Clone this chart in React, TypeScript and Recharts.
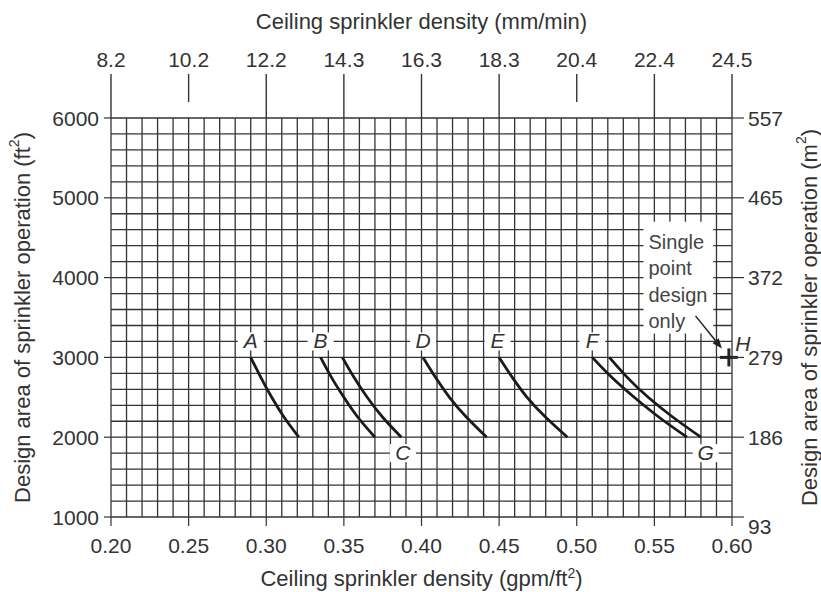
import React from 'react';
import {
  LineChart, Line, XAxis, YAxis, CartesianGrid, Scatter,
  ReferenceArea, ReferenceLine,
} from 'recharts';

// bottom axis, gpm/ft2
const densityTicks = [0.2, 0.25, 0.3, 0.35, 0.4, 0.45, 0.5, 0.55, 0.6];
// top axis, mm/min (same positions as densityTicks)
const mmLabels = ['8.2', '10.2', '12.2', '14.3', '16.3', '18.3', '20.4', '22.4', '24.5'];
const shortTopTicks = ['10.2', '20.4'];
// left axis, ft2
const areaTicks = [1000, 2000, 3000, 4000, 5000, 6000];
// right axis, m2
const m2Labels = ['93', '186', '279', '372', '465', '557'];

// fine grid: every 0.01 gpm/ft2 and every 200 ft2
const gridX: number[] = [];
for (let i = 20; i <= 60; i++) gridX.push(i / 100);
const gridY: number[] = [];
for (let v = 1000; v <= 6000; v += 200) gridY.push(v);

const curveA = [
  { x: 0.290, y: 3000 }, { x: 0.2965, y: 2750 }, { x: 0.3035, y: 2500 }, { x: 0.3115, y: 2250 }, { x: 0.321, y: 2000 },
];
const curveB1 = [
  { x: 0.335, y: 3000 }, { x: 0.342, y: 2750 }, { x: 0.350, y: 2500 }, { x: 0.359, y: 2250 }, { x: 0.370, y: 2000 },
];
const curveB2 = [
  { x: 0.349, y: 3000 }, { x: 0.3565, y: 2750 }, { x: 0.365, y: 2500 }, { x: 0.375, y: 2250 }, { x: 0.387, y: 2000 },
];
const curveD = [
  { x: 0.401, y: 3000 }, { x: 0.409, y: 2750 }, { x: 0.418, y: 2500 }, { x: 0.429, y: 2250 }, { x: 0.442, y: 2000 },
];
const curveE = [
  { x: 0.450, y: 3000 }, { x: 0.4585, y: 2750 }, { x: 0.468, y: 2500 }, { x: 0.480, y: 2250 }, { x: 0.494, y: 2000 },
];
const curveF1 = [
  { x: 0.510, y: 3000 }, { x: 0.5225, y: 2750 }, { x: 0.537, y: 2500 }, { x: 0.553, y: 2250 }, { x: 0.571, y: 2000 },
];
const curveF2 = [
  { x: 0.521, y: 3000 }, { x: 0.5325, y: 2750 }, { x: 0.546, y: 2500 }, { x: 0.562, y: 2250 }, { x: 0.580, y: 2000 },
];
const curves = [curveA, curveB1, curveB2, curveD, curveE, curveF1, curveF2];

const curveLabels = [
  { x: 0.290, y: 3200, name: 'A' },
  { x: 0.335, y: 3200, name: 'B' },
  { x: 0.401, y: 3200, name: 'D' },
  { x: 0.449, y: 3200, name: 'E' },
  { x: 0.510, y: 3200, name: 'F' },
  { x: 0.388, y: 1800, name: 'C' },
  { x: 0.583, y: 1800, name: 'G' },
];
const pointH = [{ x: 0.598, y: 3000, name: 'H' }];
const noteLines = ['Single', 'point', 'design', 'only'];

const FONT = '"Liberation Sans", Arial, Helvetica, sans-serif';
const INK = '#333';
const FS = 21;
const TITLE_FS = 22;

const isMajorX = (v: number) => Math.abs(v * 20 - Math.round(v * 20)) < 1e-6;
const nearestIndex = (arr: number[], v: number) => {
  let best = 0;
  arr.forEach((a, i) => { if (Math.abs(a - v) < Math.abs(arr[best] - v)) best = i; });
  return best;
};

const BottomTick = (props: any) => {
  const { x, y, payload } = props;
  const v = payload.value as number;
  if (!isMajorX(v)) return <g />;
  return (
    <g>
      <line x1={x} y1={y} x2={x} y2={y + 9} stroke={INK} strokeWidth={1.2} />
      <text x={x} y={y + 36} textAnchor="middle" fontSize={FS} fontFamily={FONT} fill={INK}>
        {v.toFixed(2)}
      </text>
    </g>
  );
};

const TopTick = (props: any) => {
  const { x, y, payload } = props;
  const label = mmLabels[nearestIndex(densityTicks, payload.value)];
  const short = shortTopTicks.includes(label);
  return (
    <g>
      <line x1={x} y1={y - 44} x2={x} y2={short ? y - 16 : y} stroke={INK} strokeWidth={1.4} />
      <text x={x} y={y - 51} textAnchor="middle" fontSize={FS} fontFamily={FONT} fill={INK}>
        {label}
      </text>
    </g>
  );
};

const LeftTick = (props: any) => {
  const { x, y, payload } = props;
  const v = payload.value as number;
  if (v % 1000 !== 0) return <g />;
  return (
    <g>
      <line x1={x - 7} y1={y} x2={x} y2={y} stroke={INK} strokeWidth={1.2} />
      <text x={x - 12} y={y + 7.5} textAnchor="end" fontSize={FS} fontFamily={FONT} fill={INK}>
        {v}
      </text>
    </g>
  );
};

const RightTick = (props: any) => {
  const { x, y, payload } = props;
  const i = nearestIndex(areaTicks, payload.value);
  return (
    <g>
      <line x1={x} y1={y} x2={x + 12} y2={y} stroke={INK} strokeWidth={1.2} />
      <text x={x + 16} y={y + (i === 0 ? 17 : 7.5)} textAnchor="start" fontSize={FS} fontFamily={FONT} fill={INK}>
        {m2Labels[i]}
      </text>
    </g>
  );
};

const LabelBox = (props: any) => {
  const { cx, cy, payload } = props;
  return (
    <g>
      <rect x={cx - 13} y={cy - 9} width={26} height={18} fill="#fff" />
      <text x={cx} y={cy + 7} textAnchor="middle" fontSize={21} fontStyle="italic" fontFamily={FONT} fill={INK}>
        {payload.name}
      </text>
    </g>
  );
};

const PlusMark = (props: any) => {
  const { cx, cy, payload } = props;
  return (
    <g>
      <line x1={cx - 9} y1={cy} x2={cx + 9} y2={cy} stroke="#222" strokeWidth={3} />
      <line x1={cx} y1={cy - 9} x2={cx} y2={cy + 9} stroke="#222" strokeWidth={3} />
      <text x={cx + 14} y={cy - 6} textAnchor="middle" fontSize={21} fontStyle="italic" fontFamily={FONT} fill={INK}>
        {payload.name}
      </text>
    </g>
  );
};

const Arrow = (props: any) => {
  const { x1, y1, x2, y2 } = props;
  const ang = Math.atan2(y2 - y1, x2 - x1);
  const L = 10;
  const W = 4;
  const bx = x2 - L * Math.cos(ang);
  const by = y2 - L * Math.sin(ang);
  const px = -Math.sin(ang) * W;
  const py = Math.cos(ang) * W;
  return (
    <g>
      <line x1={x1} y1={y1} x2={bx} y2={by} stroke="#222" strokeWidth={1.5} />
      <polygon points={`${x2},${y2} ${bx + px},${by + py} ${bx - px},${by - py}`} fill="#222" />
    </g>
  );
};

const NoteText = (props: any) => {
  const { viewBox } = props;
  const x0 = viewBox.x + 5;
  const y0 = viewBox.y;
  return (
    <g>
      {noteLines.map((t, i) => (
        <text key={t} x={x0} y={y0 + 27 + i * 26.5} fontSize={20} fontFamily={FONT} fill="#444">
          {t}
        </text>
      ))}
    </g>
  );
};

const TitleTop = (props: any) => {
  const { viewBox } = props;
  return (
    <text x={viewBox.x + viewBox.width / 2} y={29} textAnchor="middle" fontSize={TITLE_FS} fontFamily={FONT} fill={INK}>
      Ceiling sprinkler density (mm/min)
    </text>
  );
};

const TitleBottom = (props: any) => {
  const { viewBox } = props;
  return (
    <text x={viewBox.x + viewBox.width / 2} y={viewBox.y + 69} textAnchor="middle" fontSize={TITLE_FS} fontFamily={FONT} fill={INK}>
      Ceiling sprinkler density (gpm/ft<tspan dy={-8} fontSize={14}>2</tspan><tspan dy={8}>)</tspan>
    </text>
  );
};

const makeSideTitle = (unit: string, cxOffset: number) => (props: any) => {
  const { viewBox } = props;
  const cx = viewBox.x + cxOffset;
  const cy = viewBox.y + viewBox.height / 2;
  return (
    <text
      x={cx}
      y={cy}
      transform={`rotate(-90 ${cx} ${cy})`}
      textAnchor="middle"
      dominantBaseline="central"
      fontSize={TITLE_FS}
      fontFamily={FONT}
      fill={INK}
    >
      Design area of sprinkler operation ({unit}<tspan dy={-8} fontSize={14}>2</tspan><tspan dy={8}>)</tspan>
    </text>
  );
};
const TitleLeft = makeSideTitle('ft', 22);
const TitleRight = makeSideTitle('m', 77);

export default function App() {
  return (
    <div style={{ position: 'absolute', left: 0, top: 0, background: '#fff', fontFamily: FONT }}>
      <LineChart width={821} height={592} margin={{ top: 0, right: 0, bottom: 0, left: 0 }}>
        <CartesianGrid xAxisId="bottom" yAxisId="left" stroke="#333" strokeWidth={1.3} />
        <XAxis
          xAxisId="bottom"
          type="number"
          dataKey="x"
          domain={[0.2, 0.6]}
          ticks={gridX}
          interval={0}
          height={75}
          tickSize={0}
          tickMargin={0}
          axisLine={false}
          tickLine={false}
          tick={<BottomTick />}
          label={{ content: <TitleBottom /> }}
        />
        <XAxis
          xAxisId="top"
          orientation="top"
          type="number"
          dataKey="x"
          domain={[0.2, 0.6]}
          ticks={densityTicks}
          interval={0}
          height={118}
          tickSize={0}
          tickMargin={0}
          axisLine={false}
          tickLine={false}
          tick={<TopTick />}
          label={{ content: <TitleTop /> }}
        />
        <YAxis
          yAxisId="left"
          type="number"
          domain={[1000, 6000]}
          ticks={gridY}
          interval={0}
          width={111}
          tickSize={0}
          tickMargin={0}
          axisLine={false}
          tickLine={false}
          tick={<LeftTick />}
          label={{ content: <TitleLeft /> }}
        />
        <YAxis
          yAxisId="right"
          orientation="right"
          type="number"
          domain={[1000, 6000]}
          ticks={areaTicks}
          interval={0}
          width={89}
          tickSize={0}
          tickMargin={0}
          axisLine={false}
          tickLine={false}
          tick={<RightTick />}
          label={{ content: <TitleRight /> }}
        />
        <ReferenceArea
          xAxisId="bottom"
          yAxisId="left"
          x1={0.543}
          x2={0.588}
          y1={3300}
          y2={4700}
          fill="#fff"
          fillOpacity={1}
          stroke="none"
          label={{ content: <NoteText /> }}
        />
        <ReferenceLine
          xAxisId="bottom"
          yAxisId="left"
          segment={[{ x: 0.5765, y: 3520 }, { x: 0.5935, y: 3110 }]}
          shape={<Arrow />}
        />
        {curves.map((c, i) => (
          <Line
            key={i}
            xAxisId="bottom"
            yAxisId="left"
            data={c}
            dataKey="y"
            type="natural"
            stroke="#1a1a1a"
            strokeWidth={2.8}
            dot={false}
            activeDot={false}
            isAnimationActive={false}
          />
        ))}
        <Scatter
          xAxisId="top"
          yAxisId="right"
          data={curveLabels}
          dataKey="y"
          shape={<LabelBox />}
          isAnimationActive={false}
        />
        <Scatter
          xAxisId="top"
          yAxisId="right"
          data={pointH}
          dataKey="y"
          shape={<PlusMark />}
          isAnimationActive={false}
        />
      </LineChart>
    </div>
  );
}
